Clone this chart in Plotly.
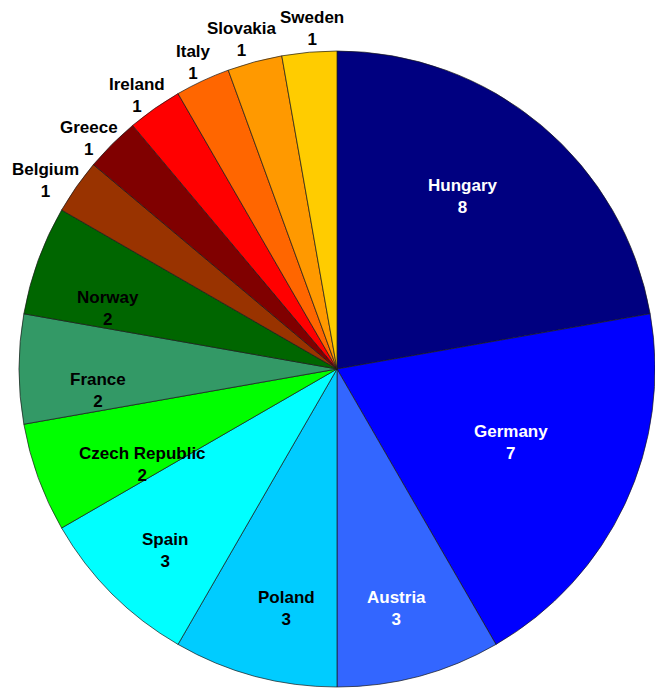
import math
import plotly.graph_objects as go

countries = ["Hungary", "Germany", "Austria", "Poland", "Spain", "Czech Republic",
             "France", "Norway", "Belgium", "Greece", "Ireland", "Italy", "Slovakia", "Sweden"]
counts = [8, 7, 3, 3, 3, 2, 2, 2, 1, 1, 1, 1, 1, 1]

colors = ["#000080", "#0000FF", "#3366FF", "#00CCFF", "#00FFFF", "#00FF00",
          "#339966", "#006600", "#993300", "#800000", "#FF0000", "#FF6600",
          "#FF9900", "#FFCC00"]
text_colors = ["white", "white", "white"] + ["black"] * 11
# label placement style: radial fraction of radius, angular offset (deg) from slice middle
label_r = [0.67, 0.595, 0.775, 0.77, 0.785, 0.68, 0.755, 0.745,
           1.09, 1.065, 1.065, 1.065, 1.08, 1.075]
label_dang = [-3.9, -2.0, 1.0, -3.0, -1.5, -6.2, -5.2, -5.1,
              -2.1, -2.2, -1.1, -0.1, -1.1, 0.8]

W, H = 655, 691
cx_px, cy_px, R_px = 337, 369, 318
x0, x1 = (cx_px - R_px) / W, min(1.0, (cx_px + R_px) / W)
y_c = 1 - cy_px / H
y0, y1 = y_c - R_px / H, y_c + R_px / H

fig = go.Figure(go.Pie(
    labels=countries, values=counts, sort=False, direction="clockwise", rotation=0,
    textinfo="none",
    marker=dict(colors=colors, line=dict(color="#1a1a1a", width=0.7)),
    domain=dict(x=[x0, x1], y=[y0, y1]), showlegend=False,
))

total = sum(counts)
cum = 0
annotations = []
for name, v, tc, fr, da in zip(countries, counts, text_colors, label_r, label_dang):
    mid = (cum + v / 2) / total * 360 + da
    cum += v
    th = math.radians(mid)
    px = cx_px + R_px * fr * math.sin(th)
    py = cy_px - R_px * fr * math.cos(th)
    annotations.append(dict(
        x=px / W, y=1 - py / H, xref="paper", yref="paper",
        text=f"{name}<br>{v}", showarrow=False,
        xanchor="center", yanchor="middle", align="center",
        font=dict(family="Liberation Sans, Arial, sans-serif", size=17,
                  color=tc, weight="bold"),
    ))

fig.update_layout(
    width=W, height=H, autosize=False,
    margin=dict(l=0, r=0, t=0, b=0),
    paper_bgcolor="white", plot_bgcolor="white",
    annotations=annotations,
)

fig.write_html(
    "out.html",
    config={"displayModeBar": False},
    post_script="document.body.style.margin='0';"
                "document.documentElement.style.overflow='hidden';",
)
